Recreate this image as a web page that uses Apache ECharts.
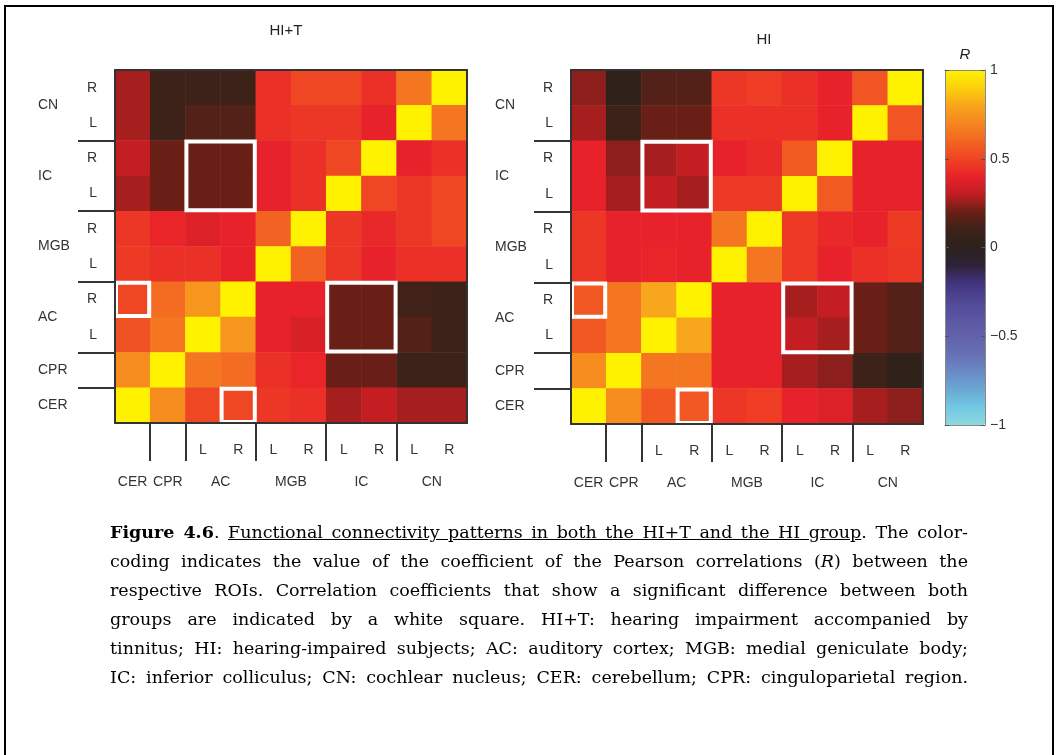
<!DOCTYPE html>
<html>
<head>
<meta charset="utf-8">
<script src="https://cdn.jsdelivr.net/npm/echarts@6/dist/echarts.min.js"></script>
<style>
  html, body { margin: 0; padding: 0; background: #fff; }
  #frame {
    position: absolute; left: 4px; top: 5px; width: 1046px; height: 760px;
    border: 2px solid #000; border-bottom: none;
  }
  #chart { position: absolute; left: 0; top: 0; width: 1056px; height: 755px; }
  #caption {
    position: absolute; left: 110px; top: 518px; width: 858px;
    font-family: "DejaVu Serif", "Liberation Serif", serif; font-size: 17.5px;
    line-height: 29px; color: #000;
  }
  #caption div { text-align: justify; text-align-last: justify; white-space: nowrap; }
</style>
</head>
<body>
<div id="frame"></div>
<div id="chart"></div>
<div id="caption">
  <div><b>Figure 4.6</b>. <u>Functional connectivity patterns in both the HI+T and the HI group</u>. The color-</div>
  <div>coding indicates the value of the coefficient of the Pearson correlations (<i>R</i>) between the</div>
  <div>respective ROIs. Correlation coefficients that show a significant difference between both</div>
  <div>groups are indicated by a white square. HI+T: hearing impairment accompanied by</div>
  <div>tinnitus; HI: hearing-impaired subjects; AC: auditory cortex; MGB: medial geniculate body;</div>
  <div>IC: inferior colliculus; CN: cochlear nucleus; CER: cerebellum; CPR: cinguloparietal region.</div>
</div>
<script>
// Regions of interest, in axis order (left-to-right columns, bottom-to-top rows)
const regions = ['CER', 'CPR', 'AC L', 'AC R', 'MGB L', 'MGB R', 'IC L', 'IC R', 'CN L', 'CN R'];
const sideLabels = ['', '', 'L', 'R', 'L', 'R', 'L', 'R', 'L', 'R'];
const groupNames = ['CER', 'CPR', 'AC', 'MGB', 'IC', 'CN'];
const groupSizes = [1, 1, 2, 2, 2, 2];
const panelTitles = ['HI+T', 'HI'];

// Pearson R, rows listed top to bottom (CN R ... CER), columns CER ... CN R
const corrHIT = [
  [0.27, 0.10, 0.10, 0.10, 0.44, 0.51, 0.51, 0.44, 0.65, 1.00],
  [0.27, 0.10, 0.15, 0.15, 0.44, 0.46, 0.46, 0.40, 1.00, 0.65],
  [0.31, 0.20, 0.20, 0.20, 0.40, 0.44, 0.51, 1.00, 0.40, 0.44],
  [0.27, 0.20, 0.20, 0.20, 0.40, 0.44, 1.00, 0.51, 0.46, 0.51],
  [0.46, 0.41, 0.37, 0.40, 0.59, 1.00, 0.46, 0.42, 0.46, 0.51],
  [0.47, 0.44, 0.44, 0.40, 1.00, 0.59, 0.46, 0.40, 0.44, 0.44],
  [0.51, 0.62, 0.75, 1.00, 0.40, 0.40, 0.20, 0.20, 0.11, 0.10],
  [0.54, 0.65, 1.00, 0.75, 0.40, 0.36, 0.20, 0.20, 0.15, 0.10],
  [0.72, 1.00, 0.65, 0.62, 0.44, 0.41, 0.20, 0.20, 0.10, 0.10],
  [1.00, 0.72, 0.51, 0.51, 0.46, 0.44, 0.27, 0.31, 0.27, 0.27]
];
const corrHI = [
  [0.24, 0.03, 0.15, 0.15, 0.46, 0.48, 0.44, 0.40, 0.55, 1.00],
  [0.27, 0.10, 0.20, 0.20, 0.44, 0.44, 0.44, 0.40, 1.00, 0.55],
  [0.40, 0.24, 0.27, 0.31, 0.40, 0.43, 0.57, 1.00, 0.40, 0.40],
  [0.40, 0.27, 0.31, 0.27, 0.47, 0.47, 1.00, 0.57, 0.40, 0.40],
  [0.46, 0.40, 0.40, 0.40, 0.65, 1.00, 0.47, 0.42, 0.40, 0.47],
  [0.46, 0.40, 0.41, 0.40, 1.00, 0.65, 0.47, 0.40, 0.44, 0.46],
  [0.56, 0.65, 0.80, 1.00, 0.40, 0.40, 0.27, 0.31, 0.20, 0.15],
  [0.56, 0.65, 1.00, 0.80, 0.40, 0.40, 0.31, 0.27, 0.20, 0.15],
  [0.72, 1.00, 0.65, 0.65, 0.40, 0.40, 0.27, 0.24, 0.10, 0.03],
  [1.00, 0.72, 0.56, 0.56, 0.46, 0.48, 0.40, 0.37, 0.27, 0.24]
];

// Significant group differences: [colFrom, colTo, rowFrom, rowTo] (axis indices)
const significantBoxes = [
  [2, 3, 6, 7],
  [6, 7, 2, 3],
  [0, 0, 3, 3],
  [3, 3, 0, 0]
];

const rRange = [-1, 1];
const colorbarTicks = [-1, -0.5, 0, 0.5, 1];
const colorScale = [
  '#8fd8dc', '#72c8e4', '#6aa8d4', '#6a8ac4', '#6670b4', '#6262aa',
  '#5a56a2', '#504896', '#42347e', '#2e2238', '#2c211c', '#3c2219',
  '#6a1f16', '#c01e22', '#e8222a', '#ef4423', '#f26522', '#f5861f',
  '#f8a61b', '#fcd00c', '#fff200'
];

// Group boundaries and centres on a 0..N scale
const groupBounds = [];
const groupMids = [];
let acc = 0;
groupSizes.forEach((s, i) => {
  groupMids.push(acc + s / 2);
  acc += s;
  if (i < groupSizes.length - 1) groupBounds.push(acc);
});
const nCells = regions.length;
const groupLabelAt = {};
groupMids.forEach((m, i) => { groupLabelAt[m] = groupNames[i]; });

function toCells(matrix) {
  const out = [];
  matrix.forEach((row, r) => {
    row.forEach((v, c) => out.push([c, nCells - 1 - r, v]));
  });
  return out;
}

const FONT = 'Liberation Sans, Arial, sans-serif';
const LABEL = { fontFamily: FONT, fontSize: 14, color: '#333' };
const BORDER = { color: '#333', width: 2 };

const panels = [
  { left: 115, top: 70, width: 352, height: 353, title: [286, 31], groupMargin: 77 },
  { left: 571, top: 70, width: 352, height: 354, title: [764, 40], groupMargin: 76 }
];

const grids = [], xAxes = [], yAxes = [], series = [], graphics = [];

panels.forEach((p, gi) => {
  grids.push({ left: p.left, top: p.top, width: p.width, height: p.height });
  const base = xAxes.length;
  // columns with L/R labels
  xAxes.push({
    type: 'category', gridIndex: gi, position: 'bottom', data: regions, z: 10,
    axisLine: { onZero: false, lineStyle: BORDER }, axisTick: { show: false },
    axisLabel: Object.assign({ interval: 0, margin: 20, formatter: (v, i) => sideLabels[i] }, LABEL),
    splitLine: { show: false }
  });
  // region-group ticks and names
  xAxes.push({
    type: 'value', gridIndex: gi, position: 'bottom', min: 0, max: nCells,
    axisLine: { show: false, onZero: false },
    axisTick: { show: true, customValues: groupBounds, length: 38, lineStyle: BORDER },
    axisLabel: Object.assign({ customValues: groupMids, margin: 52, formatter: v => groupLabelAt[v] || '' }, LABEL),
    splitLine: { show: false }
  });
  // top border
  xAxes.push({
    type: 'value', gridIndex: gi, position: 'top', min: 0, max: nCells, z: 10,
    axisLine: { onZero: false, lineStyle: BORDER }, axisTick: { show: false }, axisLabel: { show: false },
    splitLine: { show: false }
  });

  yAxes.push({
    type: 'category', gridIndex: gi, position: 'left', data: regions, z: 10,
    axisLine: { onZero: false, lineStyle: BORDER }, axisTick: { show: false },
    axisLabel: Object.assign({ interval: 0, margin: 18, formatter: (v, i) => sideLabels[i] }, LABEL),
    splitLine: { show: false }
  });
  yAxes.push({
    type: 'value', gridIndex: gi, position: 'left', min: 0, max: nCells,
    axisLine: { show: false, onZero: false },
    axisTick: { show: true, customValues: groupBounds, length: 37, lineStyle: BORDER },
    axisLabel: Object.assign({ customValues: groupMids, margin: p.groupMargin, align: 'left',
      formatter: v => groupLabelAt[v] || '' }, LABEL),
    splitLine: { show: false }
  });
  yAxes.push({
    type: 'value', gridIndex: gi, position: 'right', min: 0, max: nCells, z: 10,
    axisLine: { onZero: false, lineStyle: BORDER }, axisTick: { show: false }, axisLabel: { show: false },
    splitLine: { show: false }
  });

  graphics.push({
    type: 'text', x: p.title[0], y: p.title[1], z: 20,
    style: { text: panelTitles[gi], align: 'center', verticalAlign: 'middle',
      font: '15px ' + FONT, fill: '#222' }
  });
  p.xIndex = base;
  p.yIndex = gi * 3;
});

const matrices = [corrHIT, corrHI];
panels.forEach((p, gi) => {
  series.push({
    type: 'heatmap', name: panelTitles[gi], xAxisIndex: p.xIndex, yAxisIndex: p.yIndex,
    data: toCells(matrices[gi]), itemStyle: { borderWidth: 0 },
    emphasis: { disabled: true }, progressive: 0, z: 2
  });
});
panels.forEach((p, gi) => {
  series.push({
    type: 'custom', name: panelTitles[gi] + ' significance',
    xAxisIndex: p.xIndex, yAxisIndex: p.yIndex, z: 5, clip: true, silent: true,
    data: significantBoxes,
    encode: { x: [0, 1], y: [2, 3] },
    renderItem: (params, api) => {
      const a = api.coord([api.value(0), api.value(3)]);
      const b = api.coord([api.value(1), api.value(2)]);
      const s = api.size([1, 1]);
      const inset = 1;
      return {
        type: 'rect',
        shape: {
          x: a[0] - s[0] / 2 + inset, y: a[1] - s[1] / 2 + inset,
          width: b[0] - a[0] + s[0] - 2 * inset, height: b[1] - a[1] + s[1] - 2 * inset
        },
        style: { fill: null, stroke: '#fff', lineWidth: 4 }
      };
    }
  });
});

// Colour bar frame and scale (ticks point into the bar)
const cb = { left: 945, top: 70, width: 40, height: 355 };
grids.push({ left: cb.left, top: cb.top, width: cb.width, height: cb.height });
const cbGrid = grids.length - 1;
const CB_LINE = { color: '#888', width: 1 };
const CB_TICK = { show: true, inside: false, length: -4, customValues: colorbarTicks, lineStyle: { color: '#555' } };
xAxes.push({ type: 'value', gridIndex: cbGrid, position: 'bottom', min: 0, max: 1, z: 10,
  axisLine: { onZero: false, lineStyle: CB_LINE }, axisTick: { show: false }, axisLabel: { show: false }, splitLine: { show: false } });
xAxes.push({ type: 'value', gridIndex: cbGrid, position: 'top', min: 0, max: 1, z: 10,
  axisLine: { onZero: false, lineStyle: CB_LINE }, axisTick: { show: false }, axisLabel: { show: false }, splitLine: { show: false } });
yAxes.push({ type: 'value', gridIndex: cbGrid, position: 'right', min: rRange[0], max: rRange[1], z: 10,
  axisLine: { onZero: false, lineStyle: CB_LINE },
  axisTick: CB_TICK,
  axisLabel: Object.assign({ customValues: colorbarTicks, margin: 5,
    formatter: v => String(v).replace('-', '\u2212') }, LABEL),
  splitLine: { show: false } });
yAxes.push({ type: 'value', gridIndex: cbGrid, position: 'left', min: rRange[0], max: rRange[1], z: 10,
  axisLine: { onZero: false, lineStyle: CB_LINE },
  axisTick: CB_TICK,
  axisLabel: { show: false }, splitLine: { show: false } });

graphics.push({
  type: 'text', x: 965, y: 55, z: 20,
  style: { text: 'R', align: 'center', verticalAlign: 'middle', font: 'italic 15px ' + FONT, fill: '#222' }
});

const chart = echarts.init(document.getElementById('chart'), null, { renderer: 'canvas' });
chart.setOption({
  animation: false,
  backgroundColor: 'transparent',
  grid: grids,
  xAxis: xAxes,
  yAxis: yAxes,
  visualMap: {
    type: 'continuous', min: rRange[0], max: rRange[1], seriesIndex: [0, 1],
    inRange: { color: colorScale }, calculable: false, hoverLink: false,
    left: cb.left, top: cb.top, itemWidth: cb.width, itemHeight: cb.height,
    padding: 0, orient: 'vertical', z: 4
  },
  graphic: graphics,
  series: series
});
</script>
</body>
</html>
